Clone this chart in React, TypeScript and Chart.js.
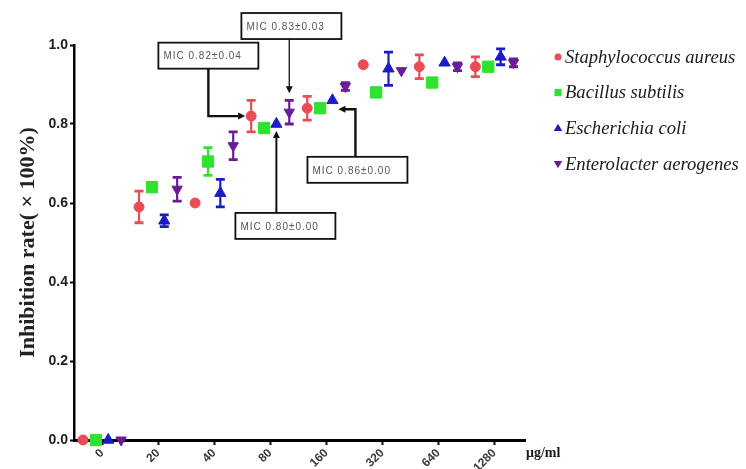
import React, { useEffect, useRef } from "react";
import { Chart, registerables } from "chart.js";

Chart.register(...registerables);

// Concentration groups (µg/ml)
const doseLabels = ["0", "20", "40", "80", "160", "320", "640", "1280"];

const seriesNames = [
  "Staphylococcus aureus",
  "Bacillus subtilis",
  "Escherichia coli",
  "Enterolacter aerogenes",
];

// Mean inhibition rate per concentration, with its ± error
const staphMean = [0, 0.59, 0.6, 0.82, 0.84, 0.95, 0.945, 0.945];
const staphErr = [0, 0.04, 0, 0.04, 0.03, 0, 0.03, 0.025];
const bacillusMean = [0, 0.64, 0.705, 0.79, 0.84, 0.88, 0.905, 0.945];
const bacillusErr = [0, 0, 0.035, 0, 0, 0, 0, 0];
const ecoliMean = [0, 0.555, 0.625, 0.8, 0.86, 0.94, 0.955, 0.97];
const ecoliErr = [0, 0.015, 0.035, 0, 0, 0.042, 0, 0.02];
const enteroMean = [0, 0.635, 0.745, 0.83, 0.895, 0.935, 0.945, 0.955];
const enteroErr = [0, 0.03, 0.035, 0.03, 0.01, 0, 0.01, 0.01];

const yTicks = [0, 0.2, 0.4, 0.6, 0.8, 1.0];

const seriesMeans = [staphMean, bacillusMean, ecoliMean, enteroMean];
const seriesErrs = [staphErr, bacillusErr, ecoliErr, enteroErr];

// Styling for each series
const seriesColors = ["#ea4c56", "#2fe22f", "#1c1cc4", "#6b1b98"];
const markerStyles = ["circle", "rect", "triangle", "triangle"];
const markerRotation = [0, 0, 0, 180];
const markerRadius = [5, 8, 6.5, 6];
// Side-by-side placement of the four strains inside a concentration group
const groupOffsets = [-0.34, -0.11, 0.11, 0.34];

// MIC call-outs: which point they refer to and where their box sits (data units)
const micNotes = [
  { text: "MIC 0.82±0.04", series: 0, dose: 3, boxX: 1.897, boxY: 0.973, route: "right" },
  { text: "MIC 0.83±0.03", series: 3, dose: 3, boxX: 3.378, boxY: 1.048, route: "down" },
  { text: "MIC 0.86±0.00", series: 2, dose: 4, boxX: 4.556, boxY: 0.684, route: "left" },
  { text: "MIC 0.80±0.00", series: 2, dose: 3, boxX: 3.271, boxY: 0.542, route: "up" },
];

function drawMarker(ctx: CanvasRenderingContext2D, style: string, rot: number, r: number, x: number, y: number) {
  ctx.beginPath();
  if (style === "circle") {
    ctx.arc(x, y, r, 0, Math.PI * 2);
  } else if (style === "rect") {
    ctx.rect(x - r, y - r, r * 2, r * 2);
  } else {
    const dir = rot === 180 ? 1 : -1;
    ctx.moveTo(x, y + dir * r);
    ctx.lineTo(x - r * 0.95, y - dir * r * 0.6);
    ctx.lineTo(x + r * 0.95, y - dir * r * 0.6);
    ctx.closePath();
  }
  ctx.fill();
}

function arrowHead(ctx: CanvasRenderingContext2D, tx: number, ty: number, dx: number, dy: number) {
  const len = 7;
  const half = 3.5;
  const bx = tx - dx * len;
  const by = ty - dy * len;
  ctx.beginPath();
  ctx.moveTo(tx, ty);
  ctx.lineTo(bx - dy * half, by + dx * half);
  ctx.lineTo(bx + dy * half, by - dx * half);
  ctx.closePath();
  ctx.fill();
}

const errorBarPlugin = {
  id: "errorBars",
  beforeDatasetsDraw(chart: any) {
    const { ctx, scales } = chart;
    const xs = scales.x;
    const ys = scales.y;
    chart.data.datasets.forEach((ds: any, s: number) => {
      const errs = seriesErrs[s];
      ds.data.forEach((pt: any, i: number) => {
        const e = errs[i];
        if (!e) return;
        const px = xs.getPixelForValue(pt.x);
        const top = ys.getPixelForValue(pt.y + e);
        const bot = ys.getPixelForValue(pt.y - e);
        ctx.save();
        ctx.strokeStyle = seriesColors[s];
        ctx.lineWidth = 2.2;
        ctx.beginPath();
        ctx.moveTo(px, top);
        ctx.lineTo(px, bot);
        ctx.stroke();
        ctx.lineWidth = 2.8;
        ctx.beginPath();
        ctx.moveTo(px - 4.5, top);
        ctx.lineTo(px + 4.5, top);
        ctx.moveTo(px - 4.5, bot);
        ctx.lineTo(px + 4.5, bot);
        ctx.stroke();
        ctx.restore();
      });
    });
  },
};

const micPlugin = {
  id: "micNotes",
  afterDatasetsDraw(chart: any) {
    const { ctx, scales } = chart;
    const xs = scales.x;
    const ys = scales.y;
    const bw = 100;
    const bh = 26;
    ctx.save();
    micNotes.forEach((n) => {
      const tx = xs.getPixelForValue(n.dose + groupOffsets[n.series]);
      const tv = seriesMeans[n.series][n.dose];
      const ty = ys.getPixelForValue(tv);
      const err = seriesErrs[n.series][n.dose];
      const cx = xs.getPixelForValue(n.boxX);
      const cy = ys.getPixelForValue(n.boxY);
      const left = cx - bw / 2;
      const top = cy - bh / 2;

      ctx.fillStyle = "#ffffff";
      ctx.fillRect(left, top, bw, bh);
      ctx.strokeStyle = "#111";
      ctx.lineWidth = 1.8;
      ctx.strokeRect(left, top, bw, bh);

      ctx.fillStyle = "#555";
      ctx.font = "10px 'Liberation Sans', Arial, sans-serif";
      (ctx as any).letterSpacing = "1px";
      ctx.textAlign = "left";
      ctx.textBaseline = "middle";
      ctx.fillText(n.text, left + 5, cy + 1);
      (ctx as any).letterSpacing = "0px";

      ctx.strokeStyle = "#111";
      ctx.fillStyle = "#111";
      ctx.beginPath();
      if (n.route === "right") {
        ctx.lineWidth = 2.4;
        const endX = tx - 6;
        ctx.moveTo(cx, top + bh);
        ctx.lineTo(cx, ty);
        ctx.lineTo(endX - 5, ty);
        ctx.stroke();
        arrowHead(ctx, endX, ty, 1, 0);
      } else if (n.route === "down") {
        ctx.lineWidth = 1.3;
        const endY = ys.getPixelForValue(tv + err) - 7;
        ctx.moveTo(tx, top + bh);
        ctx.lineTo(tx, endY - 5);
        ctx.stroke();
        arrowHead(ctx, tx, endY, 0, 1);
      } else if (n.route === "left") {
        ctx.lineWidth = 2.4;
        const hy = ty + 9;
        const endX = tx + 6;
        ctx.moveTo(cx - 2, top);
        ctx.lineTo(cx - 2, hy);
        ctx.lineTo(endX + 5, hy);
        ctx.stroke();
        arrowHead(ctx, endX, hy, -1, 0);
      } else {
        ctx.lineWidth = 2;
        const endY = ty + 7;
        ctx.moveTo(tx, top);
        ctx.lineTo(tx, endY + 5);
        ctx.stroke();
        arrowHead(ctx, tx, endY, 0, -1);
      }
    });
    ctx.restore();
  },
};

const sideLegendPlugin = {
  id: "sideLegend",
  afterDraw(chart: any) {
    const { ctx, chartArea } = chart;
    const mx = chartArea.right + 33;
    const tx = chartArea.right + 40;
    const y0 = chartArea.top + 12;
    const gap = 35.6;
    const legendRadius = [3.5, 3.6, 4.5, 4.5];
    ctx.save();
    seriesNames.forEach((name, s) => {
      const y = y0 + s * gap;
      ctx.fillStyle = seriesColors[s];
      drawMarker(ctx, markerStyles[s], markerRotation[s], legendRadius[s], mx, y);
      ctx.fillStyle = "#1a1a1a";
      ctx.font = "italic 18.6px 'Liberation Serif', 'Times New Roman', serif";
      ctx.textAlign = "left";
      ctx.textBaseline = "middle";
      ctx.fillText(name, tx, y + 1);
    });
    // unit label at the end of the x axis
    ctx.fillStyle = "#1a1a1a";
    ctx.font = "bold 14px 'Liberation Serif', 'Times New Roman', serif";
    ctx.textAlign = "left";
    ctx.textBaseline = "alphabetic";
    ctx.fillText("μg/ml", chartArea.right + 1, chartArea.bottom + 17);
    ctx.restore();
  },
};

export default function App() {
  const canvasRef = useRef<HTMLCanvasElement | null>(null);

  useEffect(() => {
    if (!canvasRef.current) return;
    const datasets = seriesNames.map((name, s) => ({
      label: name,
      data: seriesMeans[s].map((v, i) => ({ x: i + groupOffsets[s], y: v })),
      pointStyle: markerStyles[s] as any,
      pointRotation: markerRotation[s],
      pointRadius: markerRadius[s],
      pointBackgroundColor: seriesColors[s],
      pointBorderColor: seriesColors[s],
      pointBorderWidth: 1,
      backgroundColor: seriesColors[s],
      borderColor: seriesColors[s],
      showLine: false,
      clip: false as any,
    }));

    const tickFont = { family: "'Liberation Sans', Arial, sans-serif", weight: "bold" as const };

    const chart = new Chart(canvasRef.current, {
      type: "scatter",
      data: { datasets },
      options: {
        animation: false,
        responsive: false,
        events: [],
        layout: { padding: { top: 45, right: 221, left: 0, bottom: 0 } },
        plugins: { legend: { display: false }, tooltip: { enabled: false } },
        scales: {
          x: {
            type: "linear",
            min: -0.5,
            max: 7.545,
            afterBuildTicks: (s: any) => {
              s.ticks = doseLabels.map((_, i) => ({ value: i }));
            },
            afterFit: (s: any) => {
              s.height = 29;
            },
            ticks: {
              autoSkip: false,
              minRotation: 45,
              maxRotation: 45,
              padding: 1,
              color: "#3a3a3a",
              font: { ...tickFont, size: 12 },
              callback: (_v: any, i: number) => doseLabels[i],
            },
            grid: { drawOnChartArea: false, drawTicks: true, tickLength: 5, tickWidth: 2, tickColor: "#000" },
            border: { display: true, color: "#000", width: 3 },
          },
          y: {
            type: "linear",
            min: 0,
            max: 1,
            afterBuildTicks: (s: any) => {
              s.ticks = yTicks.map((v) => ({ value: v }));
            },
            afterFit: (s: any) => {
              s.width = 74;
            },
            ticks: {
              padding: 2,
              color: "#222",
              font: { ...tickFont, size: 14 },
              callback: (v: any) => Number(v).toFixed(1),
            },
            grid: { drawOnChartArea: false, drawTicks: true, tickLength: 4, tickWidth: 2, tickColor: "#000" },
            border: { display: true, color: "#000", width: 2.5 },
            title: {
              display: true,
              text: "Inhibition rate( × 100%)",
              color: "#222",
              font: { family: "'Liberation Serif', 'Times New Roman', serif", weight: "bold", size: 22 },
              padding: { top: 15, bottom: 0 },
            },
          },
        },
      },
      plugins: [errorBarPlugin, micPlugin, sideLegendPlugin],
    });

    return () => chart.destroy();
  }, []);

  return (
    <div style={{ position: "absolute", left: 0, top: 0, width: 746, height: 469, background: "#fff" }}>
      <canvas ref={canvasRef} width={746} height={469} />
    </div>
  );
}
